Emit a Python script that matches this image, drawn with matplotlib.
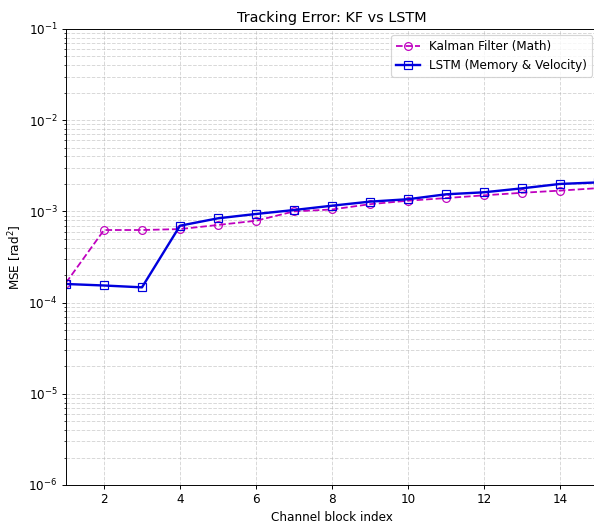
import numpy as np
import matplotlib
matplotlib.use('Agg')
import matplotlib.pyplot as plt

# Индексы блоков канала
blocks = np.arange(1, 16)

# MSE для фильтра Калмана
kf_mse = [1.65e-4, 6.25e-4, 6.25e-4, 6.4e-4, 7.1e-4, 7.9e-4, 1.0e-3, 1.05e-3,
          1.2e-3, 1.31e-3, 1.40e-3, 1.5e-3, 1.6e-3, 1.69e-3, 1.8e-3]

# MSE для LSTM
lstm_mse = [1.6e-4, 1.54e-4, 1.47e-4, 6.97e-4, 8.4e-4, 9.37e-4, 1.035e-3, 1.155e-3,
            1.28e-3, 1.36e-3, 1.54e-3, 1.62e-3, 1.79e-3, 2.0e-3, 2.08e-3]

DPI = 86


def plot_tracking_error():
    """Сравнение ошибки трекинга KF и LSTM"""
    fig = plt.figure(figsize=(594 / DPI, 525 / DPI), dpi=DPI)
    ax = fig.add_axes([66 / 594, 40 / 525, 532 / 594, 456 / 525])

    ax.semilogy(blocks, kf_mse, 'm--o', markerfacecolor='none', markersize=6.5,
                linewidth=1.5, label='Kalman Filter (Math)')
    ax.semilogy(blocks, lstm_mse, '-s', color='#0000dd', markerfacecolor='none',
                markersize=6.5, linewidth=2, label='LSTM (Memory & Velocity)')

    ax.set_xlim(1, 15)
    ax.set_ylim(1e-6, 1e-1)
    ax.set_xlabel('Channel block index')
    ax.set_ylabel('MSE [rad$^2$]')
    ax.set_title('Tracking Error: KF vs LSTM')
    ax.grid(True, which='both', linestyle='--', alpha=0.5)
    ax.legend(loc='upper right')

    fig.savefig('out.png', dpi=DPI)


if __name__ == "__main__":
    plot_tracking_error()
